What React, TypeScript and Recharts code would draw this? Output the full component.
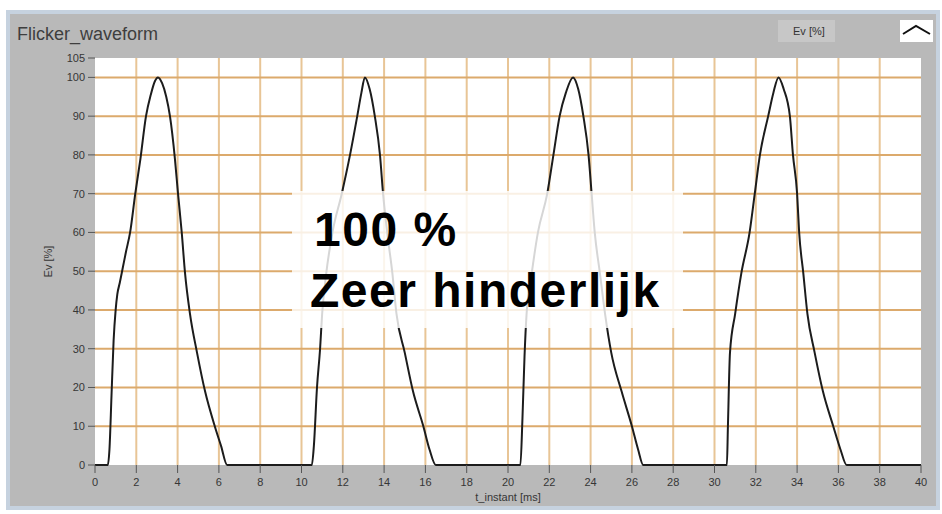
import { LineChart, Line, XAxis, YAxis, CartesianGrid } from 'recharts';

// four flicker pulses (t in ms, level in % of peak)
const pulse1Time = [0, 0.62, 0.7, 0.8, 0.9, 1.0, 1.08, 1.2, 1.35, 1.5, 1.7, 1.95, 2.2, 2.47, 2.7, 2.9, 3.05, 3.25, 3.45, 3.63, 3.87, 4.02, 4.2, 4.36, 4.6, 4.94, 5.33, 5.8, 6.1, 6.4, 8.0];
const pulse1Level = [0, 0, 4, 18, 32, 40, 44, 47, 51, 55, 60, 70, 79, 90, 95.5, 99, 100, 98.5, 95, 90, 79, 70, 60, 49.5, 39, 29, 19, 10, 5, 0, 0];

const pulse2Time = [10.5, 10.6, 10.75, 10.9, 11.0, 11.2, 11.5, 11.95, 12.35, 12.7, 12.9, 13.07, 13.3, 13.55, 13.8, 13.95, 14.15, 14.4, 14.6, 15.0, 15.4, 15.9, 16.2, 16.5, 18.5];
const pulse2Level = [0, 5, 20, 30, 39, 49.5, 60, 70, 80, 90, 96, 100, 97, 90, 80, 70, 60, 49.5, 39, 29, 19, 10, 4, 0, 0];

const pulse3Time = [20.6, 20.7, 20.8, 20.9, 21.15, 21.45, 21.9, 22.2, 22.5, 22.8, 23.15, 23.4, 23.65, 23.9, 24.05, 24.2, 24.45, 24.7, 25.0, 25.5, 26.0, 26.3, 26.55, 28.5];
const pulse3Level = [0, 12, 28, 39, 49.5, 60, 70, 80, 90, 96, 100, 97, 90, 80, 70, 60, 49.5, 39, 29, 19, 10, 4, 0, 0];

const pulse4Time = [30.6, 30.65, 30.75, 31.0, 31.3, 31.7, 31.95, 32.2, 32.6, 32.85, 33.1, 33.35, 33.65, 33.8, 34.0, 34.1, 34.3, 34.5, 34.85, 35.25, 35.75, 36.1, 36.4, 40];
const pulse4Level = [0, 10, 29, 39, 49.5, 60, 70, 80, 90, 96, 100, 97, 90, 80, 70, 60, 49.5, 39, 29, 19, 10, 4, 0, 0];

const xTicks = [0, 2, 4, 6, 8, 10, 12, 14, 16, 18, 20, 22, 24, 26, 28, 30, 32, 34, 36, 38, 40];
const yTicks = [0, 10, 20, 30, 40, 50, 60, 70, 80, 90, 100, 105];
const gridX = [2, 4, 6, 8, 10, 12, 14, 16, 18, 20, 22, 24, 26, 28, 30, 32, 34, 36, 38];
const gridY = [10, 20, 30, 40, 50, 60, 70, 80, 90, 100];

const toRows = (time: number[], level: number[]) => time.map((t, i) => ({ t, v: level[i] }));

const data = [
  ...toRows(pulse1Time, pulse1Level),
  ...toRows(pulse2Time, pulse2Level),
  ...toRows(pulse3Time, pulse3Level),
  ...toRows(pulse4Time, pulse4Level),
];

const FONT = '"Liberation Sans", Arial, sans-serif';
const tickStyle = { fill: '#363636', fontSize: 11, fontFamily: FONT };

const YLabel = (props: any) => {
  const vb = props.viewBox || { x: 45, y: 58, width: 50, height: 407 };
  const cx = vb.x + 3;
  const cy = vb.y + vb.height / 2;
  return (
    <text
      x={cx}
      y={cy}
      transform={`rotate(-90 ${cx} ${cy})`}
      textAnchor="middle"
      dominantBaseline="central"
      fill="#363636"
      fontSize={11}
      fontFamily={FONT}
    >
      Ev [%]
    </text>
  );
};

export default function App() {
  return (
    <div style={{ position: 'absolute', left: 0, top: 0, width: 942, height: 514, background: '#ffffff', overflow: 'hidden' }}>
      {/* light blue frame + grey panel */}
      <div
        style={{
          position: 'absolute', left: 6, top: 10, width: 934, height: 500,
          boxSizing: 'border-box', border: '4px solid #c6d2df', background: '#b9b9b9',
        }}
      />
      <div
        style={{
          position: 'absolute', left: 17, top: 25, fontFamily: FONT, fontSize: 18,
          lineHeight: '18px', color: '#3e3e3e', whiteSpace: 'nowrap',
        }}
      >
        Flicker_waveform
      </div>
      <div
        style={{
          position: 'absolute', left: 778, top: 20, width: 57, height: 22, background: '#c7c7c7',
          fontFamily: FONT, fontSize: 11, lineHeight: '22px', color: '#333', paddingLeft: 15, boxSizing: 'border-box',
        }}
      >
        Ev [%]
      </div>
      <div style={{ position: 'absolute', left: 900, top: 20, width: 33, height: 22, background: '#ffffff' }}>
        <svg width={33} height={22}>
          <polyline points="3,14 16,6 30,14" fill="none" stroke="#111" strokeWidth={2} />
        </svg>
      </div>

      <div style={{ position: 'absolute', left: 0, top: 0 }}>
        <LineChart width={942} height={514} data={data} margin={{ top: 58, right: 21, left: 45, bottom: 9 }}>
          <CartesianGrid fill="#ffffff" horizontal={false} verticalValues={gridX} stroke="#e8c596" strokeWidth={2} />
          <CartesianGrid vertical={false} horizontalValues={gridY} stroke="#dcaa6c" strokeWidth={2} />
          <XAxis
            dataKey="t"
            type="number"
            domain={[0, 40]}
            ticks={xTicks}
            interval={0}
            axisLine={false}
            tickSize={8}
            tickMargin={5}
            tickLine={{ stroke: '#555' }}
            tick={tickStyle}
            height={40}
            label={{ value: 't_instant [ms]', position: 'insideBottom', offset: 4, fill: '#363636', fontSize: 11, fontFamily: FONT }}
          />
          <YAxis
            type="number"
            domain={[0, 105]}
            ticks={yTicks}
            interval={0}
            axisLine={false}
            tickSize={7}
            tickMargin={3}
            tickLine={{ stroke: '#555' }}
            tick={tickStyle}
            width={50}
            label={YLabel}
          />
          <Line
            type="monotone"
            dataKey="v"
            stroke="#1c1c1c"
            strokeWidth={2}
            dot={false}
            isAnimationActive={false}
          />
        </LineChart>
      </div>

      {/* annotation box over the trace */}
      <div
        style={{
          position: 'absolute', left: 292, top: 191, width: 391, height: 137,
          background: 'rgba(255,255,255,0.82)',
        }}
      />
      <div
        style={{
          position: 'absolute', left: 314, top: 206, fontFamily: FONT, fontWeight: 'bold',
          fontSize: 48, lineHeight: '48px', color: '#000', letterSpacing: 1.5, whiteSpace: 'nowrap',
        }}
      >
        100 %
      </div>
      <div
        style={{
          position: 'absolute', left: 310, top: 267, fontFamily: FONT, fontWeight: 'bold',
          fontSize: 48, lineHeight: '48px', color: '#000', letterSpacing: 1.5, whiteSpace: 'nowrap',
        }}
      >
        Zeer hinderlijk
      </div>
    </div>
  );
}
